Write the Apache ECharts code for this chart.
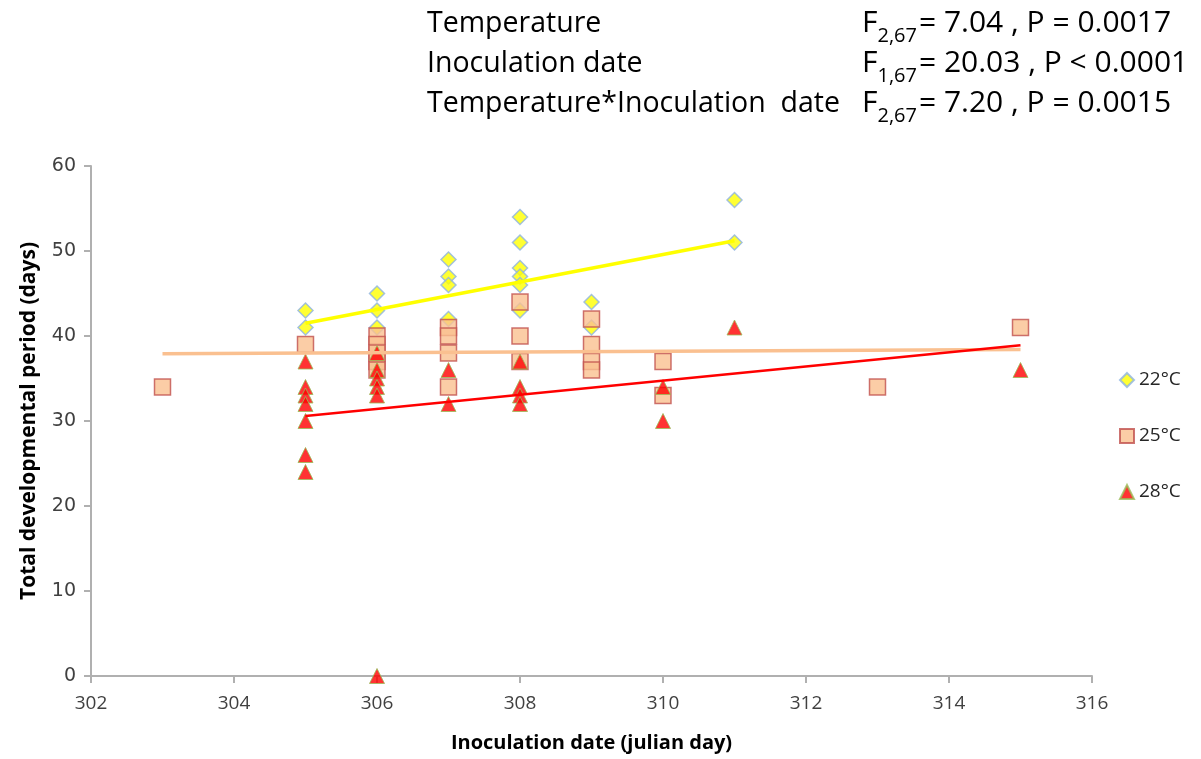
<!DOCTYPE html>
<html>
<head>
<meta charset="utf-8">
<script src="https://cdn.jsdelivr.net/npm/echarts@6/dist/echarts.min.js"></script>
<style>
html,body{margin:0;padding:0;background:#fff;}
#chart{width:1201px;height:759px;}
</style>
</head>
<body>
<div id="chart"></div>
<script>
// ---- Data ----
const seriesNames = ['22°C', '25°C', '28°C'];
const pts22 = [
  [305,43],[305,41],
  [306,45],[306,43],[306,41],
  [307,49],[307,47],[307,46],[307,42],
  [308,54],[308,51],[308,48],[308,47],[308,46],[308,43],
  [309,44],[309,41],
  [311,56],[311,51]
];
const pts25 = [
  [303,34],
  [305,39],
  [306,40],[306,39],[306,38],[306,37],[306,36],
  [307,41],[307,40],[307,38],[307,34],
  [308,44],[308,40],[308,37],
  [309,42],[309,39],[309,37],[309,36],
  [310,37],[310,33],
  [313,34],
  [315,41]
];
const pts28 = [
  [305,37],[305,34],[305,33],[305,32],[305,30],[305,26],[305,24],
  [306,38],[306,36],[306,35],[306,34],[306,33],[306,0],
  [307,36],[307,32],
  [308,37],[308,34],[308,33],[308,32],
  [310,34],[310,30],
  [311,41],
  [315,36]
];
const trend22 = [[305,41.5],[311,51.2]];
const trend25 = [[303,37.9],[315,38.4]];
const trend28 = [[305,30.6],[315,38.9]];
const statRows = [
  {label:'Temperature', sub:'2,67', rest:'= 7.04 , P = 0.0017'},
  {label:'Inoculation date', sub:'1,67', rest:'= 20.03 , P < 0.0001'},
  {label:'Temperature*Inoculation  date', sub:'2,67', rest:'= 7.20 , P = 0.0015'}
];
const xTitle = 'Inoculation date (julian day)';
const yTitle = 'Total developmental period (days)';

// ---- Chart ----
const chart = echarts.init(document.getElementById('chart'));
const axisGray = '#B0B0B0';

const graphics = [];
statRows.forEach((r, i) => {
  const y = 8 + i * 40;
  graphics.push({
    type: 'text', left: 427, top: y + 1,
    style: { text: r.label, font: '28.5px "Open Sans"', fill: '#000' }
  });
  graphics.push({
    type: 'text', left: 862, top: y,
    style: {
      text: '{f|F}{s|' + r.sub + '}{f|' + r.rest + '}',
      rich: {
        f: { font: '30px "Open Sans"', fill: '#000', verticalAlign: 'bottom' },
        s: { font: '20px "Open Sans"', fill: '#000', verticalAlign: 'bottom', padding: [0,2,-8,0] }
      }
    }
  });
});

chart.setOption({
  animation: false,
  backgroundColor: '#fff',
  grid: { left: 91, right: 109, top: 166, bottom: 83, containLabel: false },
  legend: {
    orient: 'vertical', left: 1114, top: 364,
    itemWidth: 14, itemHeight: 14, itemGap: 34,
    data: seriesNames,
    textStyle: { fontFamily: 'Open Sans', fontSize: 19, color: '#262626', lineHeight: 22 }
  },
  graphic: graphics,
  xAxis: {
    type: 'value', min: 302, max: 316, interval: 2,
    name: xTitle, nameLocation: 'middle', nameGap: 57,
    nameTextStyle: { fontFamily: 'Open Sans', fontWeight: 'bold', fontSize: 20, color: '#000' },
    axisLine: { show: true, lineStyle: { color: axisGray, width: 2 } },
    axisTick: { show: true, inside: false, length: 7, lineStyle: { color: axisGray, width: 2 } },
    axisLabel: { fontFamily: 'Open Sans', fontSize: 19, color: '#404040', margin: 18 },
    splitLine: { show: false }
  },
  yAxis: {
    type: 'value', min: 0, max: 60, interval: 10,
    name: yTitle, nameLocation: 'middle', nameGap: 51,
    nameTextStyle: { fontFamily: 'Open Sans', fontWeight: 'bold', fontSize: 21, color: '#000' },
    axisLine: { show: true, lineStyle: { color: axisGray, width: 2 } },
    axisTick: { show: true, inside: false, length: 7, lineStyle: { color: axisGray, width: 2 } },
    axisLabel: { fontFamily: 'DejaVu Sans', fontSize: 19, color: '#404040', margin: 15 },
    splitLine: { show: false }
  },
  series: [
    {
      name: seriesNames[0], type: 'scatter', data: pts22, symbol: 'diamond', symbolSize: 15, z: 2,
      itemStyle: { color: '#FFFF00', borderColor: '#8DB3E2', borderWidth: 1.5 }
    },
    {
      name: seriesNames[1], type: 'scatter', data: pts25, symbol: 'rect', symbolSize: 16, z: 3,
      itemStyle: { color: '#FAC090', borderColor: '#C0504D', borderWidth: 1.5 }
    },
    {
      name: seriesNames[2], type: 'scatter', data: pts28, symbol: 'triangle', symbolSize: 15, z: 4,
      itemStyle: { color: '#FF0000', borderColor: '#9BBB59', borderWidth: 1 }
    },
    {
      name: 'trend22', type: 'line', data: trend22, symbol: 'none', z: 5, silent: true,
      lineStyle: { color: '#FFFF00', width: 3.5 }
    },
    {
      name: 'trend25', type: 'line', data: trend25, symbol: 'none', z: 5, silent: true,
      lineStyle: { color: '#FAC090', width: 3.5 }
    },
    {
      name: 'trend28', type: 'line', data: trend28, symbol: 'none', z: 5, silent: true,
      lineStyle: { color: '#FF0000', width: 2.5 }
    }
  ]
});
</script>
</body>
</html>
